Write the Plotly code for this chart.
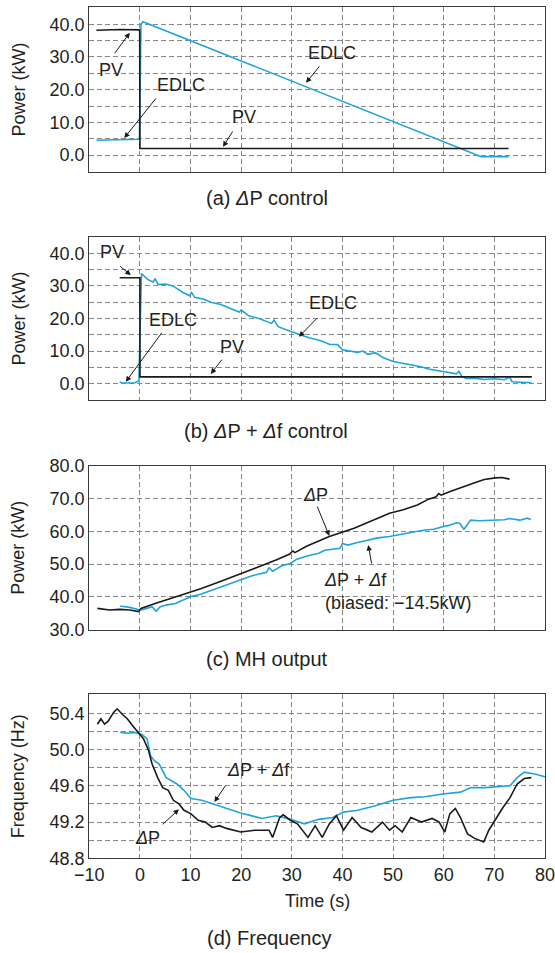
import plotly.graph_objects as go

# ---------------- data ----------------
# (a) dP control
pv_a_t = [-8.6, -4.0, -0.05, 0.0, 72.8]
pv_a_v = [38.2, 38.4, 38.3, 2.0, 2.0]
edlc_a_t = [-8.6, -4.0, -0.1, 0.2, 0.6, 67.4, 72.8]
edlc_a_v = [4.5, 4.6, 4.8, 40.0, 40.8, -0.5, -0.5]

# (b) dP + df control
pv_b_t = [-4.0, 0.0, 0.0, 77.4]
pv_b_v = [32.5, 32.5, 2.1, 2.1]
edlc_b_t = [-4.0, -3.5, -1.0, -0.2, 0.3, 1.5, 2.6, 3.0, 3.6, 5.0, 6.5, 8.5, 9.8, 10.2, 10.8,
            12.5, 14.0, 16.0, 18.0, 19.6, 20.0, 21.5, 23.5, 25.2, 26.0, 26.5, 27.3, 29.0,
            31.5, 33.5, 35.0, 36.0, 37.5, 39.0, 40.0, 42.0, 43.0, 44.0, 45.0, 46.5, 48.0,
            50.0, 52.0, 54.0, 55.5, 57.0, 59.0, 61.0, 62.5, 63.0, 63.6, 64.5, 66.0, 68.0,
            70.0, 72.0, 73.0, 73.5, 75.0, 77.3]
edlc_b_v = [0.5, 0.2, 0.3, 0.8, 33.8, 32.0, 31.2, 32.2, 30.4, 30.6, 30.0, 28.0, 27.0, 28.0, 26.5,
            26.0, 25.0, 24.3, 23.0, 22.0, 22.6, 20.8, 20.0, 19.0, 18.5, 19.5, 17.5, 16.5,
            15.0, 14.0, 13.5, 13.0, 12.0, 12.0, 10.4, 10.0, 9.6, 10.0, 9.0, 9.5, 8.0,
            6.8, 6.2, 5.6, 5.2, 4.5, 4.0, 3.3, 3.0, 3.8, 2.2, 1.6, 1.7, 1.3,
            1.5, 1.2, 2.0, 0.6, 0.4, 0.3]

# (c) MH output
mh_dp_t = [-8.4, -6.0, -4.0, -2.0, -0.3, 0.2, 3.0, 7.3, 12.0, 16.0, 19.9, 24.0, 27.0, 29.5,
           30.2, 30.6, 33.0, 37.4, 42.3, 46.0, 49.3, 52.0, 54.8, 57.0, 58.5, 59.0, 59.5,
           61.0, 63.2, 65.0, 66.7, 68.0, 70.2, 71.5, 73.0]
mh_dp_v = [36.5, 36.0, 36.2, 36.0, 35.5, 36.5, 38.0, 40.1, 42.5, 44.8, 47.2, 49.5, 51.3, 53.0,
           54.0, 53.5, 55.5, 58.4, 60.9, 63.2, 65.5, 66.6, 68.0, 69.8, 70.5, 71.5, 71.0,
           72.0, 73.1, 74.2, 75.1, 75.8, 76.3, 76.4, 75.9]
mh_dpdf_t = [-3.9, -2.0, 0.0, 0.7, 2.4, 3.2, 4.0, 5.2, 7.0, 10.1, 12.0, 14.3, 17.0, 19.9, 22.0,
             25.0, 25.5, 26.2, 28.0, 29.7, 31.0, 33.0, 35.3, 36.5, 39.5, 40.0, 41.0, 43.0,
             45.1, 47.0, 49.3, 52.0, 54.0, 56.3, 58.0, 59.8, 61.0, 62.5, 63.2, 64.0, 65.3,
             67.0, 70.2, 72.0, 73.0, 75.0, 76.5, 77.2]
mh_dpdf_v = [37.2, 36.8, 36.0, 36.2, 37.0, 35.6, 37.0, 37.5, 38.0, 40.1, 40.8, 42.1, 43.5, 45.2, 46.4,
             47.5, 48.9, 47.8, 49.5, 50.2, 51.5, 52.5, 53.3, 54.2, 54.8, 56.3, 55.8, 56.6,
             57.3, 58.0, 58.4, 59.3, 59.8, 60.4, 60.6, 61.4, 61.8, 62.6, 62.4, 60.6, 63.4,
             63.2, 63.3, 63.5, 63.9, 63.4, 64.0, 63.6]

# (d) Frequency
f_dp_t = [-8.4, -7.7, -7.0, -6.3, -5.2, -4.5, -3.5, -2.5, -1.4, -0.3, 0.7, 1.7, 2.4, 3.5, 4.5,
          5.6, 6.6, 7.7, 8.7, 10.1, 11.5, 12.9, 14.3, 15.7, 17.1, 19.9, 22.7, 25.5, 26.2,
          27.6, 28.3, 29.7, 31.1, 33.2, 34.6, 36.0, 37.4, 38.8, 40.2, 41.9, 43.7, 45.8,
          47.9, 49.3, 50.4, 51.8, 53.5, 55.6, 57.7, 59.1, 60.2, 61.2, 62.3, 63.3, 64.7,
          66.1, 67.9, 68.9, 70.3, 71.7, 73.1, 74.5, 75.9, 77.3]
f_dp_v = [50.28, 50.34, 50.28, 50.31, 50.41, 50.45, 50.39, 50.34, 50.26, 50.19, 50.12, 49.99,
          49.84, 49.69, 49.58, 49.55, 49.44, 49.40, 49.33, 49.29, 49.22, 49.20, 49.14, 49.16,
          49.13, 49.09, 49.11, 49.11, 49.03, 49.25, 49.28, 49.22, 49.18, 49.03, 49.16, 49.03,
          49.18, 49.27, 49.11, 49.25, 49.14, 49.09, 49.20, 49.11, 49.16, 49.09, 49.25, 49.20,
          49.24, 49.20, 49.09, 49.29, 49.35, 49.25, 49.07, 49.02, 48.98, 49.11, 49.24, 49.36,
          49.47, 49.62, 49.68, 49.69]
f_dpdf_t = [-3.9, -2.5, -1.1, 0.3, 1.4, 2.1, 2.8, 3.8, 5.2, 7.3, 8.7, 10.1, 12.2, 14.3, 17.1,
            19.9, 22.7, 24.1, 26.9, 29.7, 32.5, 35.3, 38.1, 40.2, 43.0, 46.5, 50.0, 53.5,
            56.3, 59.8, 63.3, 65.4, 68.2, 70.3, 73.1, 74.5, 75.9, 78.0, 80.0]
f_dpdf_v = [50.19, 50.18, 50.19, 50.17, 50.12, 49.93, 49.88, 49.84, 49.69, 49.62, 49.55, 49.46,
            49.44, 49.40, 49.35, 49.30, 49.26, 49.24, 49.27, 49.23, 49.18, 49.23, 49.25, 49.31,
            49.33, 49.38, 49.44, 49.47, 49.48, 49.51, 49.53, 49.58, 49.58, 49.59, 49.60, 49.69,
            49.75, 49.73, 49.70]

x_ticks = [-10, 0, 10, 20, 30, 40, 50, 60, 70, 80]
x_tick_labels = ["\u221210", "0", "10", "20", "30", "40", "50", "60", "70", "80"]

# ---------------- styling ----------------
OFF = 0
W, H = 555, 953
BLUE = "#1ea3df"
BLACK = "#1a1a1a"
TXT = "#231f20"
GRID = "#888888"
DASH = "5px,3px"
FONT = "Liberation Sans, Arial, Helvetica, sans-serif"
FS = 18
CAP = 20

def px2dom(top, bottom):
    return [max(0, 1 - (bottom - OFF) / H), min(1, 1 - (top - OFF) / H)]

xdom = [(89.3 - OFF) / W, (545 - OFF) / W]
panels = [
    dict(top=7.3, bot=171.7, yr=[-5.1, 45.2], dtick=10, minor=5),
    dict(top=236.7, bot=400.3, yr=[-5.1, 45.1], dtick=10, minor=5),
    dict(top=465.7, bot=629.7, yr=[30, 80], dtick=10, minor=None),
    dict(top=694.3, bot=858.3, yr=[48.8, 50.61], dtick=0.4, minor=0.2),
]

fig = go.Figure()

def add(t, v, color, i):
    ax = "" if i == 0 else str(i + 1)
    fig.add_trace(go.Scatter(x=t, y=v, mode="lines", line=dict(color=color, width=1.6),
                             xaxis="x" + ax, yaxis="y" + ax, showlegend=False,
                             hoverinfo="skip"))

add(edlc_a_t, edlc_a_v, BLUE, 0)
add(pv_a_t, pv_a_v, BLACK, 0)
add(edlc_b_t, edlc_b_v, BLUE, 1)
add(pv_b_t, pv_b_v, BLACK, 1)
add(mh_dpdf_t, mh_dpdf_v, BLUE, 2)
add(mh_dp_t, mh_dp_v, BLACK, 2)
add(f_dpdf_t, f_dpdf_v, BLUE, 3)
add(f_dp_t, f_dp_v, BLACK, 3)

layout = dict(width=W, height=H, margin=dict(l=0, r=0, t=0, b=0),
              paper_bgcolor="white", plot_bgcolor="white",
              font=dict(family=FONT, size=FS, color=TXT))

for i, p in enumerate(panels):
    ax = "" if i == 0 else str(i + 1)
    last = i == 3
    xa = dict(domain=xdom, range=[-10, 80], anchor="y" + ax, automargin=False,
              tickvals=x_ticks, ticktext=x_tick_labels, showticklabels=last,
              ticklabeloverflow="allow",
              showgrid=True, gridcolor=GRID, griddash=DASH, gridwidth=1,
              zeroline=False, showline=True, mirror=True, linecolor="#3a3a3a",
              linewidth=1.3, ticks="", tickfont=dict(size=FS, color=TXT))
    ya = dict(domain=px2dom(p["top"], p["bot"]), range=p["yr"], anchor="x" + ax,
              automargin=False, ticklabeloverflow="allow",
              dtick=p["dtick"], tick0=p["yr"][0] if i >= 2 else 0, tickformat=".1f",
              showgrid=True, gridcolor=GRID, griddash=DASH, gridwidth=1,
              zeroline=False, showline=True, mirror=True, linecolor="#3a3a3a",
              linewidth=1.3, ticks="", tickfont=dict(size=FS, color=TXT))
    if p["minor"]:
        ya["minor"] = dict(dtick=p["minor"], tick0=0 if i < 3 else 48.8, showgrid=True,
                           gridcolor=GRID, griddash=DASH, gridwidth=1, ticks="")
    layout["xaxis" + ax] = xa
    layout["yaxis" + ax] = ya

fig.update_layout(**layout)

ann = []
D = "<i>\u0394</i>"

def txt(s, x, y, i, **kw):
    ax = "" if i == 0 else str(i + 1)
    d = dict(text=s, x=x, y=y, xref="x" + ax, yref="y" + ax, showarrow=False,
             font=dict(size=FS, color=TXT))
    d.update(kw)
    ann.append(d)

def arrow(hx, hy, tx, ty, i):
    ax = "" if i == 0 else str(i + 1)
    ann.append(dict(text="", x=hx, y=hy, ax=tx, ay=ty, xref="x" + ax, yref="y" + ax,
                    axref="x" + ax, ayref="y" + ax, showarrow=True, arrowhead=2,
                    arrowsize=1.1, arrowwidth=1, arrowcolor=BLACK, standoff=0))

# panel a
txt("PV", -5.7, 26.0, 0); arrow(-2.0, 37.4, -5.2, 30.7, 0)
txt("EDLC", 8.2, 21.4, 0); arrow(-3.1, 5.2, 3.4, 17.8, 0)
txt("PV", 20.6, 11.7, 0); arrow(16.4, 2.5, 18.5, 7.7, 0)
txt("EDLC", 38.0, 31.3, 0); arrow(32.8, 22.1, 35.7, 27.6, 0)
# panel b
txt("PV", -5.6, 40.5, 1); arrow(-1.8, 33.3, -4.2, 36.4, 1)
txt("EDLC", 6.6, 19.5, 1); arrow(-2.8, 0.6, 4.5, 16.0, 1)
txt("PV", 18.2, 11.3, 1); arrow(14.0, 3.0, 16.4, 7.8, 1)
txt("EDLC", 38.1, 24.7, 1); arrow(31.4, 14.4, 35.3, 20.6, 1)
# panel c
txt(D + "P", 34.6, 71.1, 2); arrow(37.4, 58.6, 34.9, 68.0, 2)
txt(D + "P + " + D + "f<br>(biased: \u221214.5kW)", 36.0, 41.6, 2, xanchor="left", align="left")
arrow(45.1, 55.8, 45.8, 49.7, 2)
# panel d
txt(D + "P + " + D + "f", 23.4, 49.77, 3); arrow(14.7, 49.42, 17.1, 49.62, 3)
txt(D + "P", 1.4, 49.02, 3); arrow(7.7, 49.34, 4.2, 49.16, 3)

# axis titles and captions (page pixel coords)
def ptxt(s, xp, yp, size=FS, **kw):
    d = dict(text=s, x=(xp - OFF) / W, y=1 - (yp - OFF) / H, xref="paper", yref="paper",
             showarrow=False, font=dict(size=size, color=TXT),
             xanchor="center", yanchor="middle")
    d.update(kw)
    ann.append(d)

for p, label in zip(panels, ["Power (kW)", "Power (kW)", "Power (kW)", "Frequency (Hz)"]):
    ptxt(label, 18, (p["top"] + p["bot"]) / 2, textangle=-90)

ptxt("(a) " + D + "P control", 267, 198, size=CAP)
ptxt("(b) " + D + "P + " + D + "f control", 266, 431, size=CAP)
ptxt("(c) MH output", 267, 659, size=CAP)
ptxt("Time (s)", 317, 901)
ptxt("(d) Frequency", 269, 938, size=CAP)

fig.update_layout(annotations=ann)
# remove the default 8px page margin so the figure fills the window exactly
fig.write_html("out.html",
               config={"displayModeBar": False},
               post_script="document.body.style.margin='0';"
                           "document.body.style.overflow='hidden';")
